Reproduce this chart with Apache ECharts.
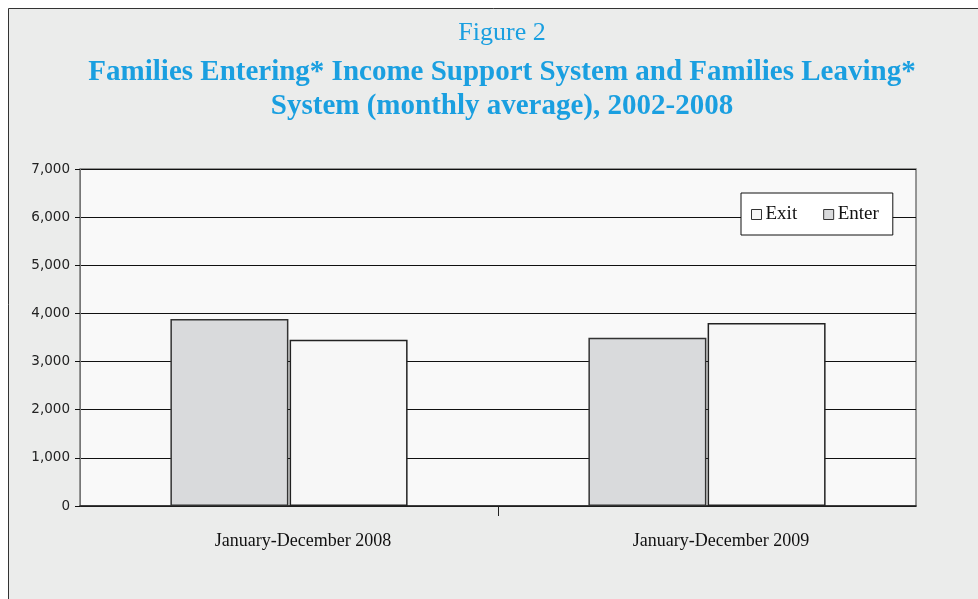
<!DOCTYPE html>
<html>
<head>
<meta charset="utf-8">
<script src="https://cdn.jsdelivr.net/npm/echarts@6/dist/echarts.min.js"></script>
<style>
  html, body { margin: 0; padding: 0; background: #ffffff; }
  #chart { width: 978px; height: 599px; }
</style>
</head>
<body>
<div id="chart"></div>
<script>
// Monthly average number of families entering / leaving the income support system
const categories = ['January-December 2008', 'January-December 2009'];
const enterValues = [3885, 3495];
const exitValues = [3455, 3800];
const yTicks = { min: 0, max: 7000, interval: 1000 };

const chart = echarts.init(document.getElementById('chart'));
const serif = '"Liberation Serif", "Times New Roman", serif';
const titleBlue = '#1a9fe0';

chart.setOption({
  backgroundColor: '#ffffff',
  animation: false,
  graphic: [
    {
      type: 'rect',
      z: -10,
      shape: { x: 8.5, y: 8.5, width: 1000, height: 620 },
      style: { fill: '#ebeceb', stroke: '#333333', lineWidth: 1 }
    }
  ],
  title: [
    {
      text: 'Figure 2',
      left: 497,
      top: 15,
      textAlign: 'center',
      textStyle: { fontFamily: serif, fontSize: 26, fontWeight: 'normal', color: titleBlue }
    },
    {
      text: 'Families Entering* Income Support System and Families Leaving*\nSystem (monthly average), 2002-2008',
      left: 497,
      top: 51,
      textAlign: 'center',
      textStyle: { fontFamily: serif, fontSize: 29, fontWeight: 'bold', color: titleBlue, lineHeight: 34 }
    }
  ],
  legend: {
    data: ['Exit', 'Enter'],
    left: 741,
    top: 193,
    orient: 'horizontal',
    backgroundColor: '#ffffff',
    borderColor: '#111111',
    borderWidth: 1,
    padding: [12, 14, 11, 10],
    itemGap: 26,
    itemWidth: 10,
    itemHeight: 10,
    icon: 'rect',
    itemStyle: { borderColor: '#333333', borderWidth: 1 },
    textStyle: { fontFamily: serif, fontSize: 19, color: '#111111', padding: [0, 0, 0, -1] }
  },
  grid: {
    left: 80,
    top: 169,
    width: 836,
    height: 337,
    show: true,
    backgroundColor: '#f9f9f9',
    borderColor: '#777777',
    borderWidth: 1.5,
    containLabel: false
  },
  xAxis: [
    {
      type: 'category',
      data: categories,
      axisLine: { show: true, lineStyle: { color: '#222222', width: 1.5 } },
      axisTick: { show: false },
      axisLabel: { margin: 26, fontFamily: serif, fontSize: 18, color: '#111111', padding: [0, 0, 0, 28] }
    },
    {
      // divider tick between the two periods
      type: 'value',
      position: 'bottom',
      min: 0,
      max: 2,
      interval: 1,
      axisLine: { show: false },
      axisTick: { show: true, length: 10, customValues: [1], lineStyle: { color: '#222222' } },
      axisLabel: { show: false },
      splitLine: { show: false }
    }
  ],
  yAxis: {
    type: 'value',
    min: yTicks.min,
    max: yTicks.max,
    interval: yTicks.interval,
    axisLine: { show: true, lineStyle: { color: '#777777', width: 1 } },
    axisTick: { show: true, length: 5, lineStyle: { color: '#111111' } },
    splitLine: { show: true, lineStyle: { color: '#111111', width: 1 } },
    axisLabel: {
      margin: 10,
      fontFamily: '"DejaVu Sans", Verdana, sans-serif',
      fontSize: 13.5,
      color: '#222222',
      formatter: v => v.toLocaleString('en-US')
    }
  },
  series: [
    {
      name: 'Enter',
      type: 'bar',
      xAxisIndex: 0,
      data: enterValues,
      barWidth: 118,
      barGap: '1%',
      itemStyle: { color: '#d9dadc', borderColor: '#333333', borderWidth: 1.5 }
    },
    {
      name: 'Exit',
      type: 'bar',
      xAxisIndex: 0,
      data: exitValues,
      barWidth: 118,
      barGap: '1%',
      itemStyle: { color: '#f7f7f7', borderColor: '#222222', borderWidth: 1.5 }
    }
  ]
});
</script>
</body>
</html>
